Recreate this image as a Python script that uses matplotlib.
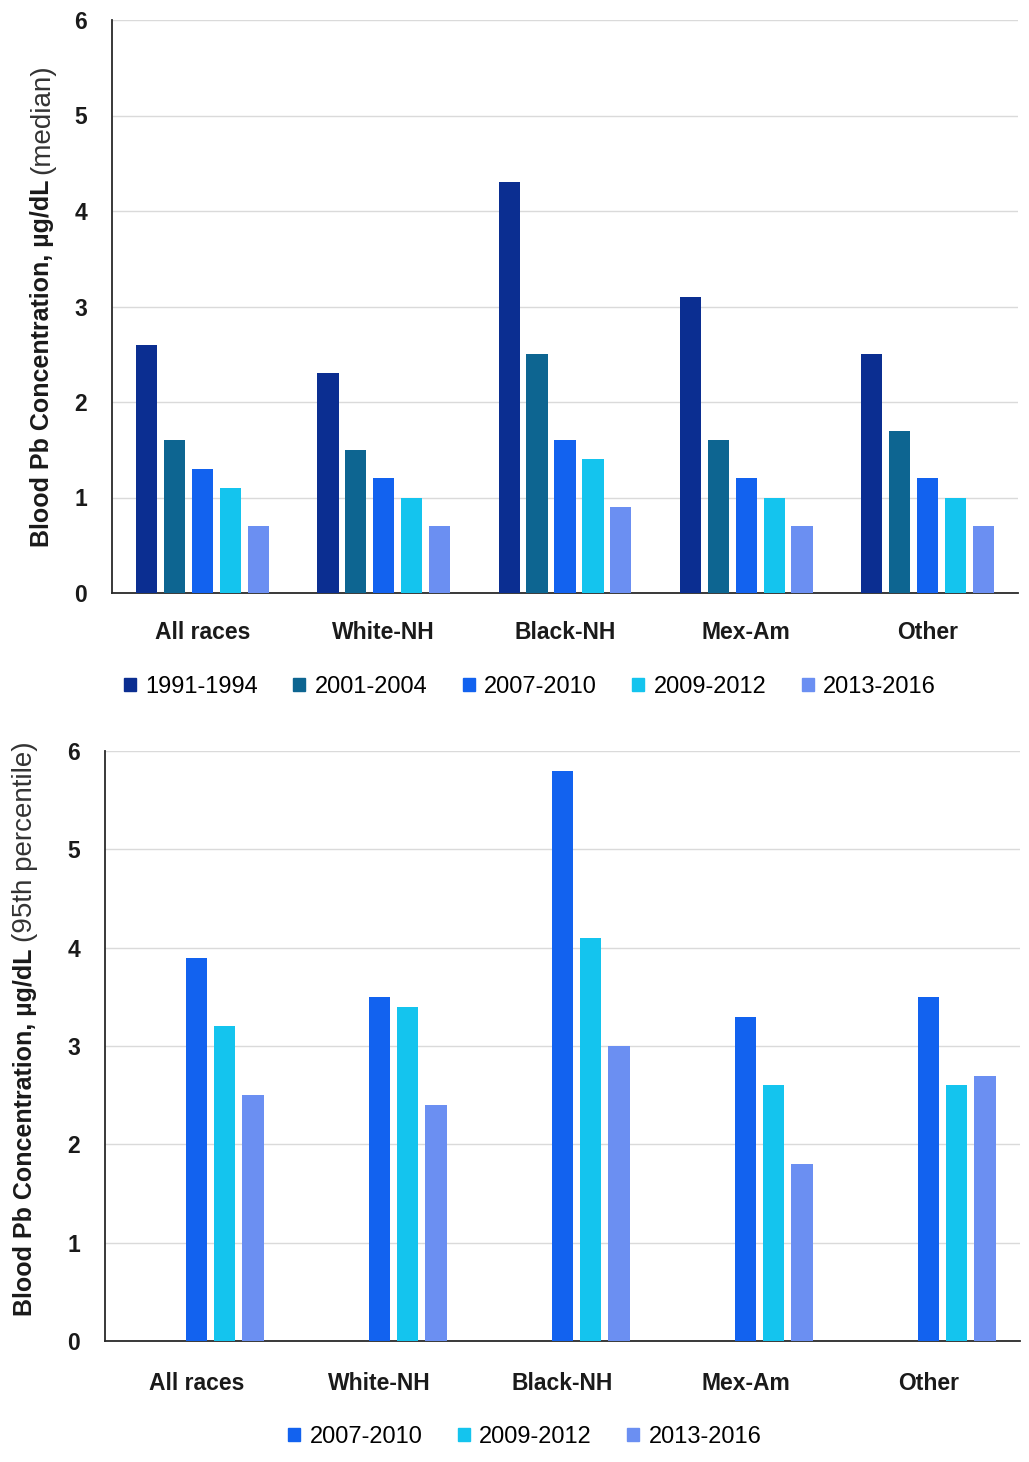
import numpy as np
import matplotlib.pyplot as plt
from matplotlib.patches import Patch

plt.rcParams['font.family'] = ['Liberation Sans', 'DejaVu Sans']

groups = ['All races', 'White-NH', 'Black-NH', 'Mex-Am', 'Other']
periods = ['1991-1994', '2001-2004', '2007-2010', '2009-2012', '2013-2016']
colors = ['#0b2e91', '#0d6591', '#1262ef', '#14c4ee', '#6b8ff2']

# median blood lead, ug/dL
median = {
    '1991-1994': [2.6, 2.3, 4.3, 3.1, 2.5],
    '2001-2004': [1.6, 1.5, 2.5, 1.6, 1.7],
    '2007-2010': [1.3, 1.2, 1.6, 1.2, 1.2],
    '2009-2012': [1.1, 1.0, 1.4, 1.0, 1.0],
    '2013-2016': [0.7, 0.7, 0.9, 0.7, 0.7],
}
# 95th percentile blood lead, ug/dL
p95 = {
    '2007-2010': [3.9, 3.5, 5.8, 3.3, 3.5],
    '2009-2012': [3.2, 3.4, 4.1, 2.6, 2.6],
    '2013-2016': [2.5, 2.4, 3.0, 1.8, 2.7],
}

W, H = 1029, 1462
fig = plt.figure(figsize=(W / 100, H / 100), dpi=100)

step = 0.154
width = 0.117
x = np.arange(len(groups))


def draw(ax, data, xpad):
    for i, per in enumerate(periods):
        if per not in data:
            continue
        ax.bar(x + (i - 2) * step, data[per], width, color=colors[i], zorder=3)
    ax.set_xlim(-0.5, 4.5)
    ax.set_ylim(0, 6)
    ax.set_yticks(range(7))
    ax.yaxis.grid(True, color='#dadada', linewidth=1, zorder=0)
    ax.set_axisbelow(True)
    for s in ['top', 'right']:
        ax.spines[s].set_visible(False)
    for s in ['left', 'bottom']:
        ax.spines[s].set_color('#2a2a2a')
        ax.spines[s].set_linewidth(1.3)
    ax.tick_params(length=0)
    ax.tick_params(axis='y', labelsize=16.5, pad=18)
    ax.tick_params(axis='x', labelsize=16.5, pad=xpad)
    ax.set_xticks(x)
    ax.set_xticklabels(groups, fontweight='bold', color='#1a1a1a')
    for t in ax.get_yticklabels():
        t.set_fontweight('bold')
        t.set_color('#1a1a1a')


ax1 = fig.add_axes([112 / W, 1 - 593 / H, 906 / W, 573 / H])
draw(ax1, median, 20)

ax2 = fig.add_axes([105 / W, 1 - 1341 / H, 915 / W, 590 / H])
draw(ax2, p95, 22)

# legends
leg_kw = dict(loc='center', frameon=False, fontsize=17, handlelength=0.5,
              handleheight=0.5, handletextpad=0.4, columnspacing=1.5)
h1 = [Patch(color=c) for c in colors]
fig.legend(h1, periods, bbox_to_anchor=(530 / W, 1 - 687 / H), ncol=5, **leg_kw)
h2 = [Patch(color=c) for c in colors[2:]]
fig.legend(h2, periods[2:], bbox_to_anchor=(525 / W, 1 - 1437 / H), ncol=3, **leg_kw)

# y labels: bold quantity followed by a regular-weight qualifier
fig.canvas.draw()
r = fig.canvas.get_renderer()
for xc, ybot, extra in [(42, 547, '(median)'), (25, 1316, '(95th percentile)')]:
    t = fig.text(xc / W, 1 - ybot / H, 'Blood Pb Concentration, µg/dL', rotation=90,
                 ha='center', va='bottom', fontsize=18, fontweight='bold', color='#1a1a1a')
    bb = t.get_window_extent(r)
    fig.text(xc / W, (bb.y1 + 6) / H, extra, rotation=90, ha='center', va='bottom',
             fontsize=20, color='#333333')

fig.savefig('out.png', dpi=100, facecolor='white')
